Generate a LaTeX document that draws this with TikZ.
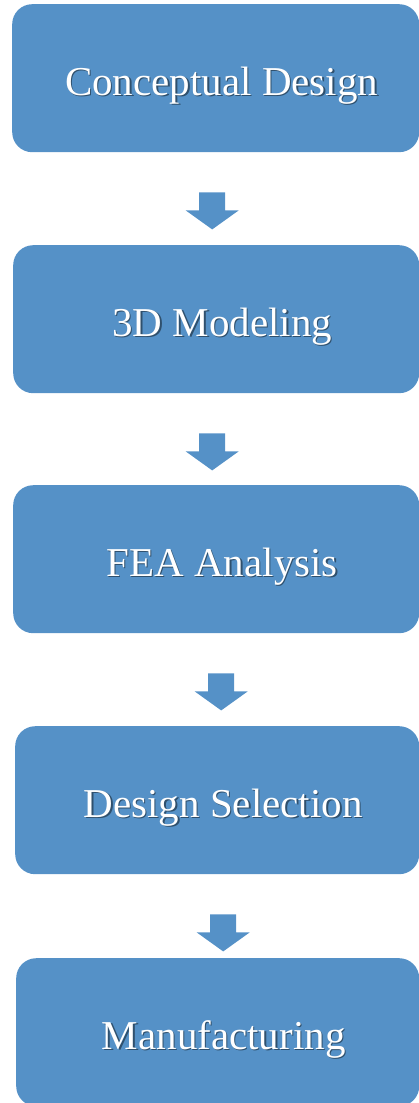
\documentclass[tikz,border=0pt]{standalone}
\usepackage{fontspec}
\setmainfont{Liberation Serif}
\usetikzlibrary{calc}

\definecolor{boxblue}{HTML}{5591C7}
\colorlet{shadowblue}{boxblue!55!black}
\newcommand{\shadowtext}[1]{\hspace*{12pt}\rlap{\kern1.4pt\raisebox{-1.4pt}{\color{shadowblue}#1}}#1}

\tikzset{
  stagebox/.style={fill=boxblue, rounded corners=20pt, anchor=north west,
    minimum height=148pt, inner sep=0pt, text=white,
    font=\fontsize{41}{48}\selectfont, text height=40pt, text depth=6pt},
  flowarrow/.style={fill=boxblue}
}

\begin{document}
\begin{tikzpicture}
    \useasboundingbox (0,0) rectangle (419pt,-1103pt);

    % Stages
    \node[stagebox, minimum width=407pt] (cd) at (12pt,-4pt) {\shadowtext{Conceptual Design}};
    \node[stagebox, minimum width=406pt] (tdm) at (13pt,-245pt) {\shadowtext{3D Modeling}};
    \node[stagebox, minimum width=406pt] (fea) at (13pt,-485pt) {\shadowtext{FEA Analysis}};
    \node[stagebox, minimum width=404pt] (ds) at (15pt,-726pt) {\shadowtext{Design Selection}};
    \node[stagebox, minimum width=403pt] (mf) at (16pt,-958pt) {\shadowtext{Manufacturing}};

    % Block arrows
    \foreach \a/\b/\dx in {cd/tdm/-3.5, tdm/fea/-4, fea/ds/5, ds/mf/6}
      \fill[flowarrow] ([xshift={\dx pt-13pt}, yshift=-40pt]\a.south) -- ++(26pt,0) -- ++(0,-18pt)
        -- ++(13.5pt,0) -- ++(-26.5pt,-19pt) -- ++(-26.5pt,19pt) -- ++(13.5pt,0) -- cycle;
\end{tikzpicture}
\end{document}
